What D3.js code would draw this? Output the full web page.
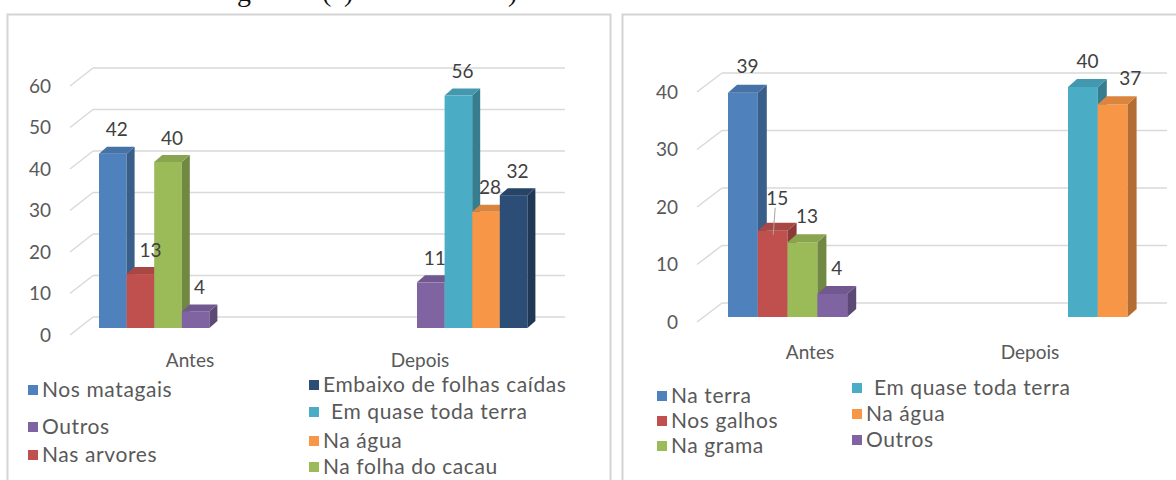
<!DOCTYPE html>
<html>
<head>
<meta charset="utf-8">
<script src="https://cdn.jsdelivr.net/npm/d3@7"></script>
<style>
  html, body { margin: 0; padding: 0; background: #fff; }
  svg { display: block; }
</style>
</head>
<body>
<svg id="chart" width="1176" height="480"></svg>
<script>
// ---------- DATA ----------
const categories = ["Antes", "Depois"];

// Left chart
const leftTicks = [0, 10, 20, 30, 40, 50, 60];
const leftAntesSeries = ["Nos matagais", "Nas arvores", "Na folha do cacau", "Outros"];
const leftAntesValues = [42, 13, 40, 4];
const leftDepoisSeries = ["Outros", "Em quase toda terra", "Na água", "Embaixo de folhas caídas"];
const leftDepoisValues = [11, 56, 28, 32];
const leftLegendCol1 = ["Nos matagais", "Outros", "Nas arvores"];
const leftLegendCol2 = ["Embaixo de folhas caídas", "Em quase toda terra", "Na água", "Na folha do cacau"];

// Right chart
const rightTicks = [0, 10, 20, 30, 40];
const rightAntesSeries = ["Na terra", "Nos galhos", "Na grama", "Outros"];
const rightAntesValues = [39, 15, 13, 4];
const rightDepoisSeries = ["Em quase toda terra", "Na água"];
const rightDepoisValues = [40, 37];
const rightLegendCol1 = ["Na terra", "Nos galhos", "Na grama"];
const rightLegendCol2 = ["Em quase toda terra", "Na água", "Outros"];

// Caption fragments (top of a cropped caption line)
const captionGlyphs = ["g", "(", ")", ")"];

// ---------- STYLES ----------
const colorOf = {
  "Nos matagais": "#4F81BD", "Na terra": "#4F81BD",
  "Nas arvores": "#C0504D", "Nos galhos": "#C0504D",
  "Na folha do cacau": "#9BBB59", "Na grama": "#9BBB59",
  "Outros": "#8064A2",
  "Em quase toda terra": "#4BACC6",
  "Na água": "#F79646",
  "Embaixo de folhas caídas": "#2C4D75"
};
const FONT = "Lato, 'Open Sans', sans-serif";
const GRID = "#d9d9d9";
const TXT = "#595959";

const svg = d3.select("#chart");

// caption fragments
const capX = [237, 322, 344, 508];
svg.append("g").selectAll("text").data(captionGlyphs).join("text")
  .attr("x", (d, i) => capX[i]).attr("y", 1)
  .attr("font-family", "'Liberation Serif', serif").attr("font-size", 28)
  .attr("fill", "#111").text(d => d);

// panels
svg.append("rect").attr("x", 7.5).attr("y", 14.5).attr("width", 603).attr("height", 480)
  .attr("fill", "#fff").attr("stroke", "#d4d4d4").attr("stroke-width", 2);
svg.append("rect").attr("x", 622.5).attr("y", 14.5).attr("width", 600).attr("height", 480)
  .attr("fill", "#fff").attr("stroke", "#d4d4d4").attr("stroke-width", 2);

function drawChart(cfg) {
  const g = svg.append("g");
  const y = d3.scaleLinear().domain(cfg.domain).range(cfg.backRange);

  // gridlines: back wall + side-wall diagonal
  const grid = g.append("g");
  grid.selectAll("line.back").data(cfg.ticks).join("line")
    .attr("x1", cfg.backLeft).attr("x2", cfg.backRight)
    .attr("y1", d => y(d)).attr("y2", d => y(d))
    .attr("stroke", GRID).attr("stroke-width", 1.5);
  grid.selectAll("line.diag").data(cfg.ticks).join("line")
    .attr("x1", cfg.frontLeft).attr("y1", d => y(d) + cfg.frontDy)
    .attr("x2", cfg.backLeft).attr("y2", d => y(d))
    .attr("stroke", GRID).attr("stroke-width", 1.5);

  // tick labels
  g.append("g").selectAll("text").data(cfg.ticks).join("text")
    .attr("x", cfg.tickX).attr("y", d => y(d) + cfg.frontDy)
    .attr("dy", "0.35em").attr("text-anchor", "end")
    .attr("font-family", FONT).attr("font-size", cfg.tickSize).attr("fill", TXT)
    .text(d => d);

  // category axis
  const x = d3.scaleBand().domain(categories).range(cfg.catRange);
  g.append("g").selectAll("text").data(categories).join("text")
    .attr("x", d => x(d) + x.bandwidth() / 2).attr("y", cfg.catY)
    .attr("dy", "0.35em").attr("text-anchor", "middle")
    .attr("font-family", FONT).attr("font-size", cfg.catSize).attr("fill", TXT)
    .text(d => d);

  // bars
  const yBar = v => y(v) + cfg.barDy;
  cfg.groups.forEach(grp => {
    const start = x(grp.cat) + cfg.groupOffset[grp.cat];
    const inner = d3.scaleBand().domain(d3.range(grp.values.length))
      .range([start, start + grp.values.length * cfg.barW]);
    const bars = grp.values.map((v, i) => ({ v, name: grp.series[i], i }));
    const bg = g.append("g");
    bars.forEach(b => {
      const x0 = inner(b.i), w = inner.bandwidth();
      const top = yBar(b.v), base = yBar(0);
      const c = d3.color(colorOf[b.name]);
      const dx = cfg.dx, dy = cfg.dy;
      bg.append("rect").attr("x", x0).attr("y", top).attr("width", w).attr("height", base - top)
        .attr("fill", c.formatHex());
      bg.append("path")
        .attr("d", `M${x0 + w},${top} L${x0 + w + dx},${top - dy} L${x0 + w + dx},${base - dy} L${x0 + w},${base} Z`)
        .attr("fill", c.darker(0.9).formatHex());
      bg.append("path")
        .attr("d", `M${x0},${top} L${x0 + dx},${top - dy} L${x0 + w + dx},${top - dy} L${x0 + w},${top} Z`)
        .attr("fill", c.darker(0.35).formatHex());
    });
    const lx = b => inner(b.i) + inner.bandwidth() / 2 + cfg.dx / 2 + ((cfg.labelNudge[grp.cat + b.i] || [0, 0])[0]);
    const ly = b => yBar(b.v) - cfg.labelAbove + ((cfg.labelNudge[grp.cat + b.i] || [0, 0])[1]);
    // leader lines for nudged labels
    bg.selectAll("line.leader").data(bars.filter(b => cfg.leaders.includes(grp.cat + b.i))).join("line")
      .attr("x1", b => lx(b) - 2).attr("y1", b => ly(b) + 9)
      .attr("x2", b => lx(b) - 4).attr("y2", b => yBar(b.v) + 4)
      .attr("stroke", "#a6a6a6").attr("stroke-width", 1);
    bg.selectAll("text").data(bars).join("text")
      .attr("x", lx).attr("y", ly)
      .attr("dy", "0.35em").attr("text-anchor", "middle")
      .attr("font-family", FONT).attr("font-size", cfg.labelSize).attr("fill", "#404040")
      .text(b => b.v);
  });

  // legend
  cfg.legendCols.forEach(col => {
    const lg = g.append("g");
    const rows = col.items.map((name, i) => ({ name, y: col.ys[i] }));
    lg.selectAll("rect").data(rows).join("rect")
      .attr("x", col.x).attr("y", d => d.y - 5).attr("width", 10).attr("height", 10)
      .attr("fill", d => colorOf[d.name]);
    lg.selectAll("text").data(rows).join("text")
      .attr("x", d => col.x + 14 + (col.indent[d.name] || 0)).attr("y", d => d.y)
      .attr("dy", "0.35em")
      .attr("font-family", FONT).attr("font-size", cfg.legendSize).attr("fill", TXT)
      .attr("letter-spacing", cfg.legendSpacing)
      .text(d => d.name);
  });
}

drawChart({
  domain: [0, 60], backRange: [317, 68], ticks: leftTicks,
  backLeft: 93, backRight: 565, frontLeft: 70, frontDy: 18,
  tickX: 51, tickSize: 19,
  catRange: [75, 535], catY: 360, catSize: 19,
  barDy: 11, barW: 27.6, dx: 8, dy: 7,
  groupOffset: { "Antes": 24, "Depois": 112 },
  groups: [
    { cat: "Antes", series: leftAntesSeries, values: leftAntesValues },
    { cat: "Depois", series: leftDepoisSeries, values: leftDepoisValues }
  ],
  labelAbove: 24, labelSize: 19, labelNudge: { "Antes1": [6, 0] }, leaders: [],
  legendSize: 21, legendSpacing: 0.6,
  legendCols: [
    { x: 28, items: leftLegendCol1, ys: [390, 427, 455], indent: {} },
    { x: 309, items: leftLegendCol2, ys: [385, 412, 441, 467], indent: { "Em quase toda terra": 8 } }
  ]
});

drawChart({
  domain: [0, 40], backRange: [303, 73], ticks: rightTicks,
  backLeft: 722, backRight: 1167, frontLeft: 697, frontDy: 19,
  tickX: 678, tickSize: 19,
  catRange: [700, 1140], catY: 352, catSize: 19,
  barDy: 14, barW: 29.8, dx: 9, dy: 8,
  groupOffset: { "Antes": 28, "Depois": 148 },
  groups: [
    { cat: "Antes", series: rightAntesSeries, values: rightAntesValues },
    { cat: "Depois", series: rightDepoisSeries, values: rightDepoisValues }
  ],
  labelAbove: 26, labelSize: 19, labelNudge: { "Antes1": [0, -6], "Depois1": [13, 0] }, leaders: ["Antes1"],
  legendSize: 21, legendSpacing: 0.6,
  legendCols: [
    { x: 657, items: rightLegendCol1, ys: [396, 421, 446], indent: {} },
    { x: 852, items: rightLegendCol2, ys: [388, 414, 440], indent: { "Em quase toda terra": 8 } }
  ]
});
</script>
</body>
</html>
